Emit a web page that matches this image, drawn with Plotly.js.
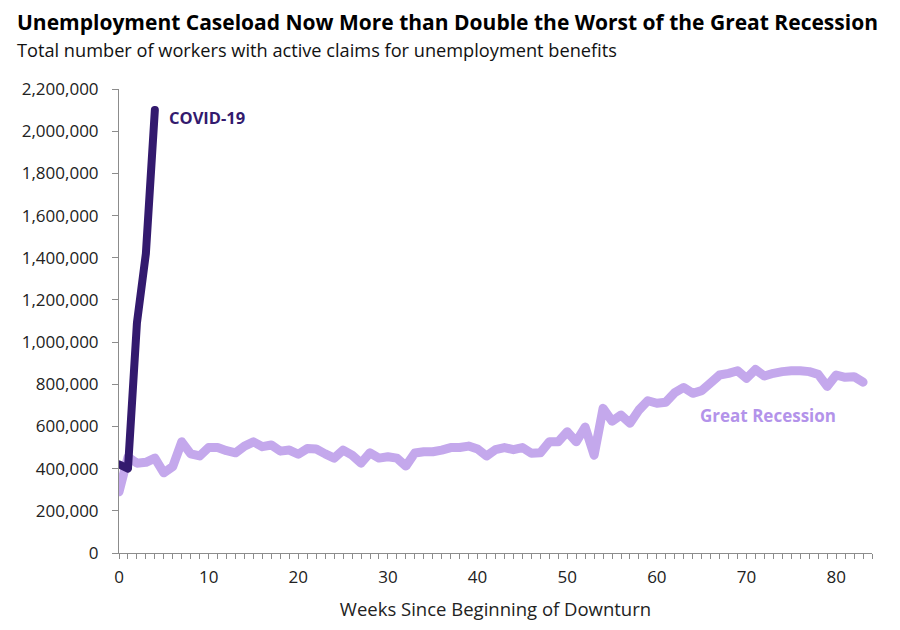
<!DOCTYPE html>
<html>
<head>
<meta charset="utf-8">
<script src="https://cdn.plot.ly/plotly-3.0.1.min.js"></script>
<style>
html,body{margin:0;padding:0;background:#fff;}
#chart{width:900px;height:630px;}
#chart path.js-line{stroke-linecap:round !important;stroke-linejoin:round !important;}
</style>
</head>
<body>
<div id="chart"></div>
<script>
// Weeks since beginning of downturn
const covidWeeks = [0, 1, 2, 3, 4];
const covidClaims = [420000, 400000, 1090000, 1420000, 2100000];

const recessionWeeks = [];
for (let i = 0; i <= 83; i++) recessionWeeks.push(i);
const recessionClaims = [
  290000, 455000, 426000, 430000, 450000, 380000, 410000, 527000, 470000, 460000,
  500000, 500000, 485000, 475000, 507000, 527000, 504000, 512000, 483000, 488000,
  468000, 495000, 493000, 470000, 450000, 488000, 464000, 426000, 475000, 450000,
  456000, 450000, 412000, 474000, 480000, 480000, 488000, 500000, 500000, 507000,
  493000, 460000, 490000, 500000, 490000, 500000, 473000, 475000, 527000, 527000,
  575000, 527000, 597000, 464000, 686000, 625000, 654000, 615000, 678000, 722000,
  710000, 715000, 760000, 785000, 757000, 770000, 807000, 844000, 852000, 864000,
  828000, 870000, 839000, 852000, 860000, 864000, 864000, 860000, 847000, 790000,
  844000, 833000, 836000, 810000
];

const titleText = "Unemployment Caseload Now More than Double the Worst of the Great Recession";
const subtitleText = "Total number of workers with active claims for unemployment benefits";
const xTitle = "Weeks Since Beginning of Downturn";
const covidLabel = "COVID-19";
const recessionLabel = "Great Recession";

const covidColor = "#331a6e";
const recessionColor = "#c4a8ec";
const labelRecessionColor = "#b393ea";
const font = "'Open Sans', Lato, sans-serif";

const traces = [
  {x: recessionWeeks, y: recessionClaims, type: "scatter", mode: "lines",
   line: {color: recessionColor, width: 9, shape: "linear", simplify: false}, hoverinfo: "skip"},
  {x: covidWeeks, y: covidClaims, type: "scatter", mode: "lines",
   line: {color: covidColor, width: 8, simplify: false}, hoverinfo: "skip"}
];

const layout = {
  width: 900, height: 630,
  margin: {l: 119, r: 28, t: 89, b: 77},
  paper_bgcolor: "#fff", plot_bgcolor: "#fff",
  showlegend: false,
  font: {family: font, color: "#222", size: 17},
  xaxis: {
    range: [0, 84], tickmode: "linear", tick0: 0, dtick: 10,
    showgrid: false, zeroline: false, showline: true, linecolor: "#8c8c8c", linewidth: 1,
    ticks: "outside", ticklen: 5, tickcolor: "#8c8c8c",
    minor: {dtick: 1, ticks: "outside", ticklen: 5, tickcolor: "#8c8c8c", showgrid: false},
    ticklabelstandoff: 4,
    tickfont: {size: 17, color: "#222"},
    title: {text: xTitle, font: {size: 18.5, color: "#222"}, standoff: 15}
  },
  yaxis: {
    range: [0, 2200000], tickmode: "linear", tick0: 0, dtick: 200000,
    tickformat: ",d", showgrid: false, zeroline: false,
    showline: true, linecolor: "#8c8c8c", linewidth: 1,
    ticks: "outside", ticklen: 6, tickcolor: "#8c8c8c",
    ticklabelstandoff: 10,
    tickfont: {size: 17, color: "#222"}
  },
  annotations: [
    {xref: "paper", yref: "paper", x: -0.138, y: 1.144, xanchor: "left", yanchor: "middle",
     text: "<b>" + titleText + "</b>", showarrow: false, font: {size: 21, color: "#000"}},
    {xref: "paper", yref: "paper", x: -0.138, y: 1.084, xanchor: "left", yanchor: "middle",
     text: subtitleText, showarrow: false, font: {size: 18.2, color: "#111"}},
    {xref: "x", yref: "y", x: 5.3, y: 2066000, xanchor: "left", yanchor: "middle",
     text: "<b>" + covidLabel + "</b>", showarrow: false, font: {size: 16.5, color: covidColor}},
    {xref: "x", yref: "y", x: 64.6, y: 654000, xanchor: "left", yanchor: "middle",
     text: "<b>" + recessionLabel + "</b>", showarrow: false, font: {size: 17, color: labelRecessionColor}}
  ]
};

Plotly.newPlot("chart", traces, layout, {staticPlot: true, displayModeBar: false});
</script>
</body>
</html>
